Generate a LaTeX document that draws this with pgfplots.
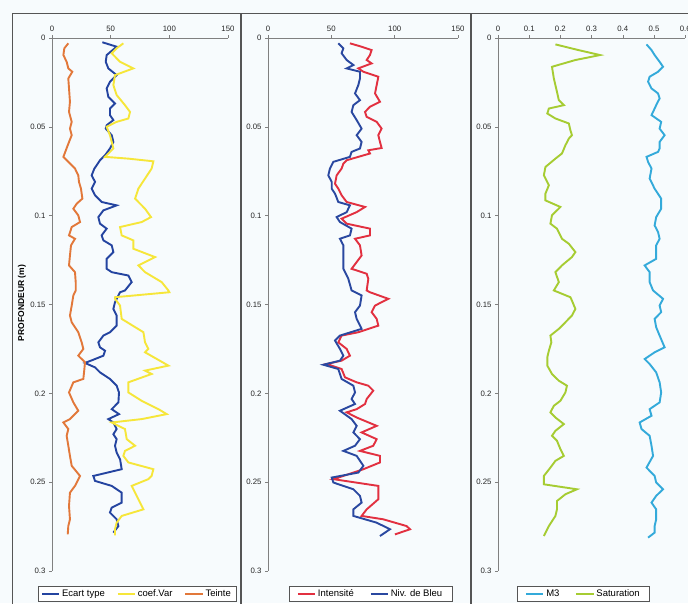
\documentclass[border=0pt]{standalone}
\usepackage{pgfplots}
\pgfplotsset{compat=1.18}
\usepackage{fontspec}
\setmainfont{Liberation Sans}
\definecolor{bgcol}{HTML}{F7FBFD}
\definecolor{framecol}{HTML}{555555}
\definecolor{axcol}{HTML}{808080}
\definecolor{cEcart}{HTML}{2444A0}
\definecolor{cCoef}{HTML}{F6E63A}
\definecolor{cTeinte}{HTML}{E2783A}
\definecolor{cInt}{HTML}{E23040}
\definecolor{cNiv}{HTML}{2A48A0}
\definecolor{cM3}{HTML}{34AADA}
\definecolor{cSat}{HTML}{A6CC32}
\pgfplotsset{
  panel/.style={
    scale only axis, height=533pt, anchor=north west,
    y dir=reverse, ymin=0, ymax=0.3,
    axis x line*=top, axis y line*=left,
    axis line style={axcol, line width=0.8pt},
    every tick/.style={axcol, line width=0.6pt},
    tick align=outside, major tick length=3pt,
    ytick={0,0.05,0.1,0.15,0.2,0.25,0.3},
    scaled ticks=false,
    /pgf/number format/fixed,
    /pgf/number format/assume math mode=true,
    tick label style={font=\fontsize{7.8}{8}\selectfont, text=black!85},
    legend cell align=left,
    legend style={draw=framecol, line width=0.6pt, fill=white, legend columns=-1,
      font=\fontsize{9.5}{10}\selectfont, inner ysep=1pt, inner xsep=3pt,
      /tikz/every even column/.append style={column sep=10pt}},
    every axis plot/.append style={line width=1.9pt, mark=none},
    clip=false,
  }
}
\begin{document}
\begin{tikzpicture}[x=1pt,y=1pt]
\useasboundingbox (0,0) rectangle (688,603);
\fill[bgcol] (0,0) rectangle (688,603);
\draw[framecol, line width=1pt] (12,-3) -- (12,589) -- (240,589) -- (240,-3);
\draw[framecol, line width=1pt] (241.5,-3) -- (241.5,589) -- (470,589) -- (470,-3);
\draw[framecol, line width=1pt] (471.5,-3) -- (471.5,589) -- (700,589);
\node[rotate=90, font=\bfseries\fontsize{8.5}{9}\selectfont] at (22,300) {PROFONDEUR (m)};

% Panel 1
\begin{axis}[panel, at={(52pt,565pt)}, width=176pt, xmin=0, xmax=150, xtick={0,50,100,150},
  legend style={at={(0.483,-0.043)}, anchor=center}]
\addplot[cEcart] coordinates {
(42.9,0.0024) (55.1,0.0049) (46.6,0.0096) (45.8,0.0134) (48.0,0.0171) (55.1,0.0209) (49.4,0.0246) (46.6,0.0284) (48.0,0.0331) (53.7,0.0369) (49.4,0.0397) (49.4,0.0434) (52.3,0.0462) (46.6,0.0491) (45.8,0.0510) (50.9,0.0547) (52.3,0.0585) (49.4,0.0622) (45.2,0.0660) (40.9,0.0688) (38.1,0.0716) (36.1,0.0735) (33.8,0.0773) (36.7,0.0810) (33.8,0.0848) (36.7,0.0885) (42.3,0.0923) (55.1,0.0942) (43.8,0.0970) (39.5,0.1008) (40.9,0.1045) (46.6,0.1073) (42.3,0.1111) (43.8,0.1139) (50.9,0.1167) (52.3,0.1205) (46.6,0.1243) (46.6,0.1299) (50.9,0.1318) (65.1,0.1337) (67.9,0.1374) (62.2,0.1421) (58.0,0.1431) (53.7,0.1487) (52.3,0.1525) (55.1,0.1562) (55.1,0.1619) (49.4,0.1656) (43.8,0.1675) (39.5,0.1713) (40.9,0.1741) (45.2,0.1760) (43.8,0.1788) (36.7,0.1807) (28.1,0.1829) (36.7,0.1854) (40.9,0.1882) (49.4,0.1919) (55.1,0.1957) (57.1,0.1995) (56.6,0.2051) (50.9,0.2089) (57.1,0.2117) (48.0,0.2145) (52.3,0.2164) (55.1,0.2201) (52.3,0.2230) (55.1,0.2258) (53.7,0.2295) (55.1,0.2333) (58.0,0.2371) (59.4,0.2427) (35.2,0.2465) (36.7,0.2493) (50.9,0.2521) (59.4,0.2559) (59.4,0.2615) (50.9,0.2643) (49.4,0.2671) (55.1,0.2709) (56.6,0.2747) (52.3,0.2784)
};
\addlegendentry{Ecart type}
\addplot[cCoef] coordinates {
(60.8,0.0030) (55.1,0.0058) (50.9,0.0086) (58.0,0.0134) (69.3,0.0171) (53.7,0.0209) (52.3,0.0265) (55.1,0.0321) (62.2,0.0378) (66.5,0.0416) (65.1,0.0453) (55.1,0.0472) (46.6,0.0500) (49.4,0.0547) (50.9,0.0585) (52.3,0.0622) (45.2,0.0669) (65.1,0.0679) (86.4,0.0694) (84.9,0.0735) (79.3,0.0791) (73.6,0.0848) (70.8,0.0904) (79.3,0.0961) (84.4,0.1008) (76.4,0.1036) (58.0,0.1064) (59.4,0.1111) (69.3,0.1139) (69.3,0.1186) (87.8,0.1233) (73.6,0.1280) (79.3,0.1318) (93.5,0.1374) (99.2,0.1421) (100.0,0.1431) (53.7,0.1459) (53.7,0.1468) (58.0,0.1506) (59.4,0.1581) (77.9,0.1656) (79.3,0.1713) (82.1,0.1750) (79.3,0.1769) (99.2,0.1844) (79.3,0.1872) (84.9,0.1891) (65.1,0.1938) (65.1,0.1995) (76.4,0.2042) (90.7,0.2089) (97.8,0.2117) (76.4,0.2145) (50.9,0.2164) (62.2,0.2201) (63.7,0.2258) (70.8,0.2295) (62.2,0.2324) (60.8,0.2352) (65.1,0.2389) (86.4,0.2427) (84.9,0.2465) (82.1,0.2483) (67.9,0.2521) (73.6,0.2596) (77.9,0.2653) (59.4,0.2690) (55.1,0.2728) (53.7,0.2765) (53.7,0.2799)
};
\addlegendentry{coef.Var}
\addplot[cTeinte] coordinates {
(13.9,0.0030) (10.5,0.0058) (9.7,0.0096) (12.5,0.0134) (13.9,0.0171) (17.3,0.0190) (13.9,0.0228) (14.5,0.0284) (15.3,0.0359) (14.5,0.0416) (16.8,0.0472) (15.3,0.0510) (16.8,0.0547) (13.4,0.0604) (9.7,0.0669) (13.9,0.0697) (19.6,0.0735) (22.4,0.0773) (23.0,0.0810) (24.7,0.0848) (25.9,0.0904) (21.0,0.0933) (18.2,0.0961) (22.4,0.0998) (23.9,0.1036) (16.8,0.1064) (14.5,0.1111) (19.6,0.1130) (16.2,0.1167) (15.3,0.1224) (14.5,0.1280) (19.6,0.1318) (20.2,0.1374) (20.2,0.1421) (18.2,0.1449) (16.8,0.1506) (15.3,0.1562) (16.8,0.1600) (22.4,0.1656) (25.3,0.1713) (26.7,0.1750) (22.4,0.1788) (28.1,0.1825) (27.6,0.1863) (26.7,0.1919) (18.2,0.1938) (14.5,0.1995) (18.2,0.2051) (22.4,0.2098) (15.3,0.2145) (9.7,0.2164) (13.9,0.2201) (12.5,0.2239) (13.9,0.2295) (15.3,0.2352) (16.8,0.2408) (23.9,0.2465) (19.6,0.2521) (15.3,0.2559) (14.5,0.2634) (15.3,0.2709) (13.9,0.2747) (13.4,0.2794)
};
\addlegendentry{Teinte}
\end{axis}

% Panel 2
\begin{axis}[panel, at={(268pt,565pt)}, width=190pt, xmin=0, xmax=150, xtick={0,50,100,150},
  legend style={at={(0.54,-0.043)}, anchor=center, inner xsep=8pt,
    /tikz/every even column/.append style={column sep=14pt}}]
\addplot[cInt] coordinates {
(64.7,0.0030) (73.9,0.0049) (81.8,0.0068) (80.5,0.0096) (77.9,0.0124) (81.8,0.0143) (71.3,0.0171) (75.3,0.0190) (87.1,0.0218) (85.8,0.0265) (84.5,0.0312) (88.4,0.0359) (80.5,0.0387) (76.6,0.0416) (77.9,0.0444) (85.8,0.0472) (89.7,0.0510) (87.1,0.0547) (88.4,0.0585) (89.7,0.0619) (79.2,0.0632) (80.5,0.0650) (71.3,0.0669) (62.1,0.0688) (59.5,0.0707) (58.1,0.0735) (54.2,0.0773) (52.9,0.0820) (55.5,0.0848) (58.1,0.0885) (62.1,0.0923) (76.6,0.0951) (70.0,0.0980) (58.1,0.1017) (62.1,0.1045) (80.5,0.1073) (80.5,0.1111) (68.7,0.1130) (72.6,0.1167) (73.9,0.1224) (66.0,0.1299) (77.9,0.1327) (79.2,0.1355) (77.9,0.1421) (80.5,0.1431) (95.0,0.1468) (84.5,0.1506) (81.8,0.1543) (85.8,0.1581) (87.1,0.1619) (71.3,0.1656) (58.1,0.1675) (55.5,0.1713) (62.1,0.1750) (64.7,0.1788) (58.1,0.1816) (46.3,0.1835) (58.1,0.1863) (60.8,0.1910) (70.0,0.1938) (79.2,0.1957) (83.1,0.1985) (77.9,0.2032) (76.6,0.2060) (70.0,0.2089) (62.1,0.2107) (70.0,0.2136) (85.8,0.2183) (73.9,0.2220) (85.8,0.2258) (83.1,0.2295) (72.6,0.2324) (88.4,0.2352) (88.4,0.2389) (75.3,0.2427) (59.5,0.2465) (51.6,0.2483) (87.1,0.2521) (87.1,0.2559) (87.1,0.2596) (77.9,0.2653) (73.9,0.2690) (91.0,0.2709) (109.4,0.2747) (112.1,0.2765) (100.2,0.2794)
};
\addlegendentry{Intensité}
\addplot[cNiv] coordinates {
(55.5,0.0030) (59.5,0.0058) (58.1,0.0086) (62.1,0.0124) (67.4,0.0152) (62.1,0.0171) (72.6,0.0190) (72.6,0.0228) (71.3,0.0265) (68.7,0.0312) (72.6,0.0350) (67.4,0.0378) (66.0,0.0416) (70.0,0.0462) (73.9,0.0510) (70.0,0.0547) (73.9,0.0585) (72.6,0.0622) (66.0,0.0641) (64.7,0.0669) (51.6,0.0697) (48.9,0.0735) (47.6,0.0773) (50.3,0.0810) (50.3,0.0848) (52.9,0.0876) (55.5,0.0923) (64.7,0.0942) (62.1,0.0980) (54.2,0.1008) (56.8,0.1036) (66.0,0.1073) (64.7,0.1111) (56.8,0.1130) (59.5,0.1167) (59.5,0.1224) (59.5,0.1299) (63.4,0.1355) (66.0,0.1421) (73.9,0.1449) (72.6,0.1506) (68.7,0.1543) (70.0,0.1581) (73.9,0.1637) (56.8,0.1675) (52.9,0.1703) (56.8,0.1750) (59.5,0.1788) (56.8,0.1816) (43.7,0.1839) (55.5,0.1863) (58.1,0.1919) (67.4,0.1957) (68.7,0.1995) (66.0,0.2032) (68.7,0.2060) (56.8,0.2098) (66.0,0.2145) (70.0,0.2183) (67.4,0.2220) (72.6,0.2258) (68.7,0.2295) (59.5,0.2324) (70.0,0.2352) (75.3,0.2408) (71.3,0.2446) (50.3,0.2474) (51.6,0.2502) (67.4,0.2540) (72.6,0.2577) (73.9,0.2615) (67.4,0.2653) (67.4,0.2690) (85.8,0.2728) (96.3,0.2765) (88.4,0.2803)
};
\addlegendentry{Niv. de Bleu}
\end{axis}

% Panel 3
\begin{axis}[panel, at={(498pt,565pt)}, width=187.2pt, xmin=0, xmax=0.6, xtick={0,0.1,0.2,0.3,0.4,0.5,0.6},
  legend style={at={(0.457,-0.043)}, anchor=center, inner xsep=8pt,
    /tikz/every even column/.append style={column sep=14pt}}]
\addplot[cM3] coordinates {
(0.476,0.0036) (0.492,0.0068) (0.502,0.0096) (0.518,0.0134) (0.529,0.0162) (0.513,0.0190) (0.486,0.0218) (0.481,0.0246) (0.492,0.0284) (0.513,0.0312) (0.518,0.0340) (0.507,0.0378) (0.497,0.0416) (0.492,0.0434) (0.523,0.0472) (0.518,0.0510) (0.534,0.0547) (0.518,0.0585) (0.518,0.0622) (0.513,0.0641) (0.476,0.0669) (0.481,0.0697) (0.492,0.0735) (0.486,0.0791) (0.502,0.0848) (0.523,0.0904) (0.523,0.0961) (0.507,0.1008) (0.502,0.1055) (0.513,0.1092) (0.518,0.1130) (0.507,0.1167) (0.507,0.1205) (0.507,0.1243) (0.470,0.1280) (0.486,0.1318) (0.486,0.1374) (0.497,0.1421) (0.529,0.1468) (0.518,0.1506) (0.523,0.1543) (0.502,0.1581) (0.507,0.1628) (0.518,0.1675) (0.534,0.1741) (0.502,0.1769) (0.470,0.1807) (0.486,0.1835) (0.507,0.1882) (0.518,0.1938) (0.523,0.1995) (0.518,0.2051) (0.486,0.2089) (0.492,0.2126) (0.454,0.2164) (0.460,0.2201) (0.486,0.2239) (0.492,0.2295) (0.497,0.2352) (0.476,0.2418) (0.502,0.2465) (0.507,0.2502) (0.529,0.2540) (0.507,0.2577) (0.492,0.2615) (0.507,0.2653) (0.507,0.2709) (0.502,0.2747) (0.502,0.2784) (0.481,0.2812)
};
\addlegendentry{M3}
\addplot[cSat] coordinates {
(0.184,0.0036) (0.258,0.0068) (0.327,0.0096) (0.248,0.0124) (0.173,0.0162) (0.179,0.0228) (0.189,0.0303) (0.195,0.0350) (0.211,0.0378) (0.163,0.0397) (0.158,0.0425) (0.184,0.0453) (0.227,0.0481) (0.232,0.0519) (0.237,0.0547) (0.227,0.0566) (0.216,0.0604) (0.205,0.0650) (0.184,0.0679) (0.152,0.0726) (0.147,0.0773) (0.163,0.0829) (0.152,0.0876) (0.152,0.0914) (0.200,0.0951) (0.173,0.0998) (0.168,0.1045) (0.189,0.1073) (0.205,0.1130) (0.227,0.1158) (0.248,0.1205) (0.237,0.1233) (0.205,0.1280) (0.184,0.1318) (0.195,0.1374) (0.179,0.1421) (0.232,0.1459) (0.237,0.1478) (0.248,0.1525) (0.237,0.1562) (0.216,0.1600) (0.195,0.1637) (0.168,0.1675) (0.171,0.1713) (0.163,0.1760) (0.158,0.1797) (0.158,0.1844) (0.173,0.1891) (0.195,0.1929) (0.221,0.1957) (0.216,0.1995) (0.200,0.2042) (0.179,0.2070) (0.168,0.2107) (0.184,0.2136) (0.211,0.2173) (0.184,0.2211) (0.173,0.2239) (0.189,0.2267) (0.200,0.2314) (0.211,0.2352) (0.184,0.2380) (0.168,0.2418) (0.147,0.2465) (0.147,0.2512) (0.253,0.2540) (0.216,0.2568) (0.189,0.2606) (0.189,0.2653) (0.184,0.2690) (0.163,0.2747) (0.147,0.2803)
};
\addlegendentry{Saturation}
\end{axis}
\end{tikzpicture}
\end{document}
